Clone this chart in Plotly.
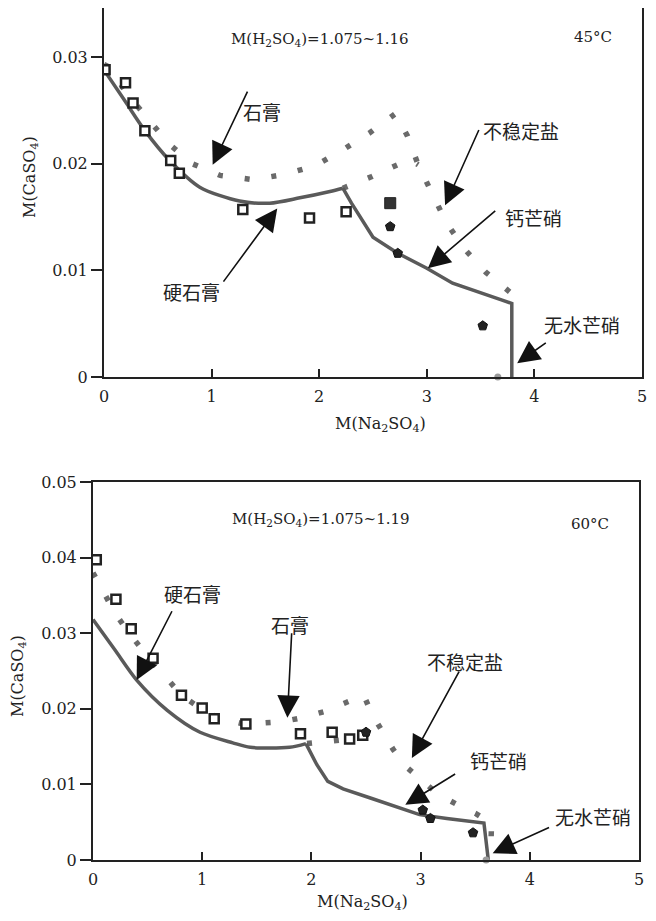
import plotly.graph_objects as go

# ---------------- data: 45 °C (top panel) ----------------
top_solid_x = [0.0, 0.20, 0.38, 0.61, 0.89, 1.26, 1.54, 1.82, 2.10, 2.22, 2.30, 2.50, 2.73, 3.00, 3.24, 3.70, 3.79, 3.79]
top_solid_y = [0.0288, 0.0258, 0.0231, 0.0203, 0.0178, 0.0165, 0.0163, 0.0168, 0.0174, 0.0177, 0.0163, 0.0131, 0.0116, 0.0102, 0.0088, 0.0072, 0.0069, 0.0]
top_solid_kink = 9  # index of the invariant point where the curve turns
top_dot_x = [0.0, 0.06, 0.21, 0.40, 0.60, 0.82, 1.08, 1.39, 1.68, 1.96, 2.22, 2.47, 2.71, 2.82, 2.92, 3.05, 3.18, 3.35, 3.55, 3.78]
top_dot_y = [0.0293, 0.0290, 0.0266, 0.0243, 0.0219, 0.0200, 0.0189, 0.0185, 0.0190, 0.0198, 0.0213, 0.0229, 0.0247, 0.0226, 0.0199, 0.0172, 0.0145, 0.0120, 0.0098, 0.0079]
top_dot2_x = [2.22, 2.30, 2.49, 2.66, 2.84, 2.92]
top_dot2_y = [0.0177, 0.0180, 0.0188, 0.0196, 0.0204, 0.0199]
top_sq_x = [0.01, 0.20, 0.27, 0.38, 0.62, 0.70, 1.29, 1.91, 2.25]
top_sq_y = [0.0288, 0.0276, 0.0257, 0.0231, 0.0203, 0.0191, 0.0157, 0.0149, 0.0155]
top_fsq_x = [2.66]
top_fsq_y = [0.0163]
top_pent_x = [2.66, 2.73, 3.52]
top_pent_y = [0.0141, 0.0116, 0.0048]
top_grey_x = [3.66]
top_grey_y = [0.0]

# ---------------- data: 60 °C (bottom panel) ----------------
bot_solid_x = [0.0, 0.20, 0.40, 0.68, 0.98, 1.28, 1.44, 1.80, 1.95, 2.05, 2.15, 2.29, 2.54, 2.78, 2.99, 3.24, 3.58, 3.62]
bot_solid_y = [0.0318, 0.0278, 0.0238, 0.0198, 0.0169, 0.0155, 0.0149, 0.0149, 0.0154, 0.0126, 0.0104, 0.0094, 0.0082, 0.0070, 0.0060, 0.0055, 0.0049, 0.0]
bot_solid_kink = 8
bot_dot_x = [0.0, 0.10, 0.20, 0.31, 0.43, 0.55, 0.69, 0.81, 0.97, 1.13, 1.35, 1.53, 1.73, 1.91, 2.11, 2.29, 2.48, 2.55, 2.65, 2.75, 2.87, 3.02, 3.16, 3.34, 3.51, 3.65, 3.64]
bot_dot_y = [0.0380, 0.0352, 0.0327, 0.0304, 0.0282, 0.0260, 0.0238, 0.0218, 0.0202, 0.0189, 0.0181, 0.0181, 0.0183, 0.0188, 0.0196, 0.0206, 0.0218, 0.0194, 0.0169, 0.0146, 0.0123, 0.0104, 0.0087, 0.0073, 0.0061, 0.0048, 0.0005]
bot_dot2_x = [1.96, 2.14, 2.35, 2.55, 2.65]
bot_dot2_y = [0.0154, 0.0156, 0.0160, 0.0165, 0.0169]
bot_sq_x = [0.03, 0.21, 0.35, 0.55, 0.81, 1.00, 1.11, 1.40, 1.90, 2.19, 2.35, 2.47]
bot_sq_y = [0.0397, 0.0345, 0.0306, 0.0267, 0.0218, 0.0201, 0.0187, 0.0180, 0.0167, 0.0169, 0.0160, 0.0165]
bot_pent_x = [2.50, 3.02, 3.09, 3.48]
bot_pent_y = [0.0169, 0.0066, 0.0055, 0.0036]
bot_grey_x = [3.60]
bot_grey_y = [0.0]

x_ticks = [0, 1, 2, 3, 4, 5]
top_y_ticks = [0, 0.01, 0.02, 0.03]
bot_y_ticks = [0, 0.01, 0.02, 0.03, 0.04, 0.05]

SERIF = "DejaVu Serif"
CJK = "Noto Sans CJK SC"
SOLID_C = "#5a5a5a"
DOT_C = "#6a6a6a"

# page has an 8px body margin: figure is sized to fit inside it
OFF = 8
W, H = 640, 905
def px(v):
    return (v - OFF) / W
def py(v):
    return min(1.0, 1 - (v - OFF) / H)

fig = go.Figure()

def add_panel(xa, ya, sx, sy, k, dx, dy, d2x, d2y, qx, qy, px_, py_, gx, gy, fqx=None, fqy=None):
    common = dict(xaxis=xa, yaxis=ya, showlegend=False, hoverinfo="skip")
    dot = dict(color=DOT_C, width=5.5, dash="5px,22px")
    fig.add_trace(go.Scatter(x=dx, y=dy, mode="lines", line=dot, **common))
    fig.add_trace(go.Scatter(x=d2x, y=d2y, mode="lines", line=dot, **common))
    fig.add_trace(go.Scatter(x=sx[:k + 1], y=sy[:k + 1], mode="lines",
                             line=dict(color=SOLID_C, width=3.5, shape="spline", smoothing=0.8),
                             **common))
    fig.add_trace(go.Scatter(x=sx[k:], y=sy[k:], mode="lines",
                             line=dict(color=SOLID_C, width=3.5), **common))
    fig.add_trace(go.Scatter(x=qx, y=qy, mode="markers",
                             marker=dict(symbol="square", size=9, color="white",
                                         line=dict(color="#222", width=2.5)), **common))
    if fqx:
        fig.add_trace(go.Scatter(x=fqx, y=fqy, mode="markers",
                                 marker=dict(symbol="square", size=11, color="#333",
                                             line=dict(color="#222", width=1)), **common))
    fig.add_trace(go.Scatter(x=px_, y=py_, mode="markers",
                             marker=dict(symbol="pentagon", size=10, color="#222",
                                         line=dict(color="#111", width=1)), **common))
    fig.add_trace(go.Scatter(x=gx, y=gy, mode="markers", cliponaxis=False,
                             marker=dict(symbol="circle", size=7, color="#9a9a9a"), **common))

add_panel("x", "y", top_solid_x, top_solid_y, top_solid_kink, top_dot_x, top_dot_y,
          top_dot2_x, top_dot2_y, top_sq_x, top_sq_y, top_pent_x, top_pent_y,
          top_grey_x, top_grey_y, top_fsq_x, top_fsq_y)
add_panel("x2", "y2", bot_solid_x, bot_solid_y, bot_solid_kink, bot_dot_x, bot_dot_y,
          bot_dot2_x, bot_dot2_y, bot_sq_x, bot_sq_y, bot_pent_x, bot_pent_y,
          bot_grey_x, bot_grey_y)

tick_font = dict(family=SERIF, size=16, color="#222")

def xaxis(domain, anchor):
    return dict(domain=domain, anchor=anchor, range=[0, 5], tickvals=x_ticks,
                ticktext=[str(v) for v in x_ticks], ticks="inside", ticklen=8, tickwidth=2,
                tickcolor="#222", showline=True, linecolor="#222", linewidth=2, mirror=True,
                showgrid=False, zeroline=False, tickfont=tick_font, ticklabelstandoff=4,
                automargin=False)

def yaxis(domain, anchor, rng, vals):
    return dict(domain=domain, anchor=anchor, range=rng, tickvals=vals,
                ticktext=["0" if v == 0 else f"{v:.2f}" for v in vals], ticks="outside",
                ticklen=11, tickwidth=2, tickcolor="#222", showline=True, linecolor="#222",
                linewidth=2, mirror=True, showgrid=False, zeroline=False, tickfont=tick_font,
                automargin=False)

fig.update_layout(
    width=W, height=H, margin=dict(l=0, r=0, t=0, b=0, autoexpand=False),
    paper_bgcolor="white", plot_bgcolor="white",
    xaxis=xaxis([px(104), px(642)], "y"),
    yaxis=yaxis([py(377), py(8)], "x", [0, 0.0346], top_y_ticks),
    xaxis2=xaxis([px(93), px(639)], "y2"),
    yaxis2=yaxis([py(860), py(482)], "x2", [0, 0.05], bot_y_ticks),
)

ann = []
def text(x, y, s, xr, yr, font):
    ann.append(dict(x=x, y=y, xref=xr, yref=yr, text=s, showarrow=False, font=font,
                    xanchor="center", yanchor="middle"))

def arrow(hx, hy, tx, ty, xr, yr):
    ann.append(dict(x=hx, y=hy, ax=tx, ay=ty, xref=xr, yref=yr, axref=xr, ayref=yr,
                    text="", showarrow=True, arrowhead=2, arrowsize=2.8, arrowwidth=1.6,
                    arrowcolor="#111"))

lab = dict(family=SERIF, size=15, color="#222")
cjk = dict(family=CJK, size=19, color="#222")

# top panel labels
text(2.01, 0.0316, "M(H<sub>2</sub>SO<sub>4</sub>)=1.075~1.16", "x", "y", lab)
text(4.54, 0.0319, "45°C", "x", "y", lab)
text(1.47, 0.0249, "石膏", "x", "y", cjk)
arrow(1.01, 0.0199, 1.34, 0.0269, "x", "y")
text(0.81, 0.0080, "硬石膏", "x", "y", cjk)
arrow(1.61, 0.0158, 1.10, 0.0088, "x", "y")
text(3.88, 0.0231, "不稳定盐", "x", "y", cjk)
arrow(3.17, 0.0161, 3.49, 0.0233, "x", "y")
text(3.99, 0.0150, "钙芒硝", "x", "y", cjk)
arrow(3.01, 0.0102, 3.65, 0.0157, "x", "y")
text(4.44, 0.0049, "无水芒硝", "x", "y", cjk)
arrow(3.84, 0.0013, 4.12, 0.0033, "x", "y")

# bottom panel labels
text(2.09, 0.0450, "M(H<sub>2</sub>SO<sub>4</sub>)=1.075~1.19", "x2", "y2", lab)
text(4.55, 0.0444, "60°C", "x2", "y2", lab)
text(0.91, 0.0353, "硬石膏", "x2", "y2", cjk)
arrow(0.40, 0.0238, 0.73, 0.0331, "x2", "y2")
text(1.80, 0.0311, "石膏", "x2", "y2", cjk)
arrow(1.78, 0.0188, 1.82, 0.0302, "x2", "y2")
text(3.41, 0.0263, "不稳定盐", "x2", "y2", cjk)
arrow(2.92, 0.0135, 3.36, 0.0251, "x2", "y2")
text(3.71, 0.0132, "钙芒硝", "x2", "y2", cjk)
arrow(2.86, 0.0073, 3.33, 0.0115, "x2", "y2")
text(4.58, 0.0058, "无水芒硝", "x2", "y2", cjk)
arrow(3.66, 0.0009, 4.19, 0.0044, "x2", "y2")

# axis titles
ttl = dict(family=SERIF, size=16, color="#222")
def title(xp, yp, s, angle=0):
    ann.append(dict(x=px(xp), y=py(yp), xref="paper", yref="paper", showarrow=False,
                    text=s, font=ttl, textangle=angle, xanchor="center", yanchor="middle"))

title(380, 424, "M(Na<sub>2</sub>SO<sub>4</sub>)")
title(31, 177, "M(CaSO<sub>4</sub>)", -90)
title(362, 902, "M(Na<sub>2</sub>SO<sub>4</sub>)")
title(18, 676, "M(CaSO<sub>4</sub>)", -90)

fig.update_layout(annotations=ann)
fig.write_html("out.html")
